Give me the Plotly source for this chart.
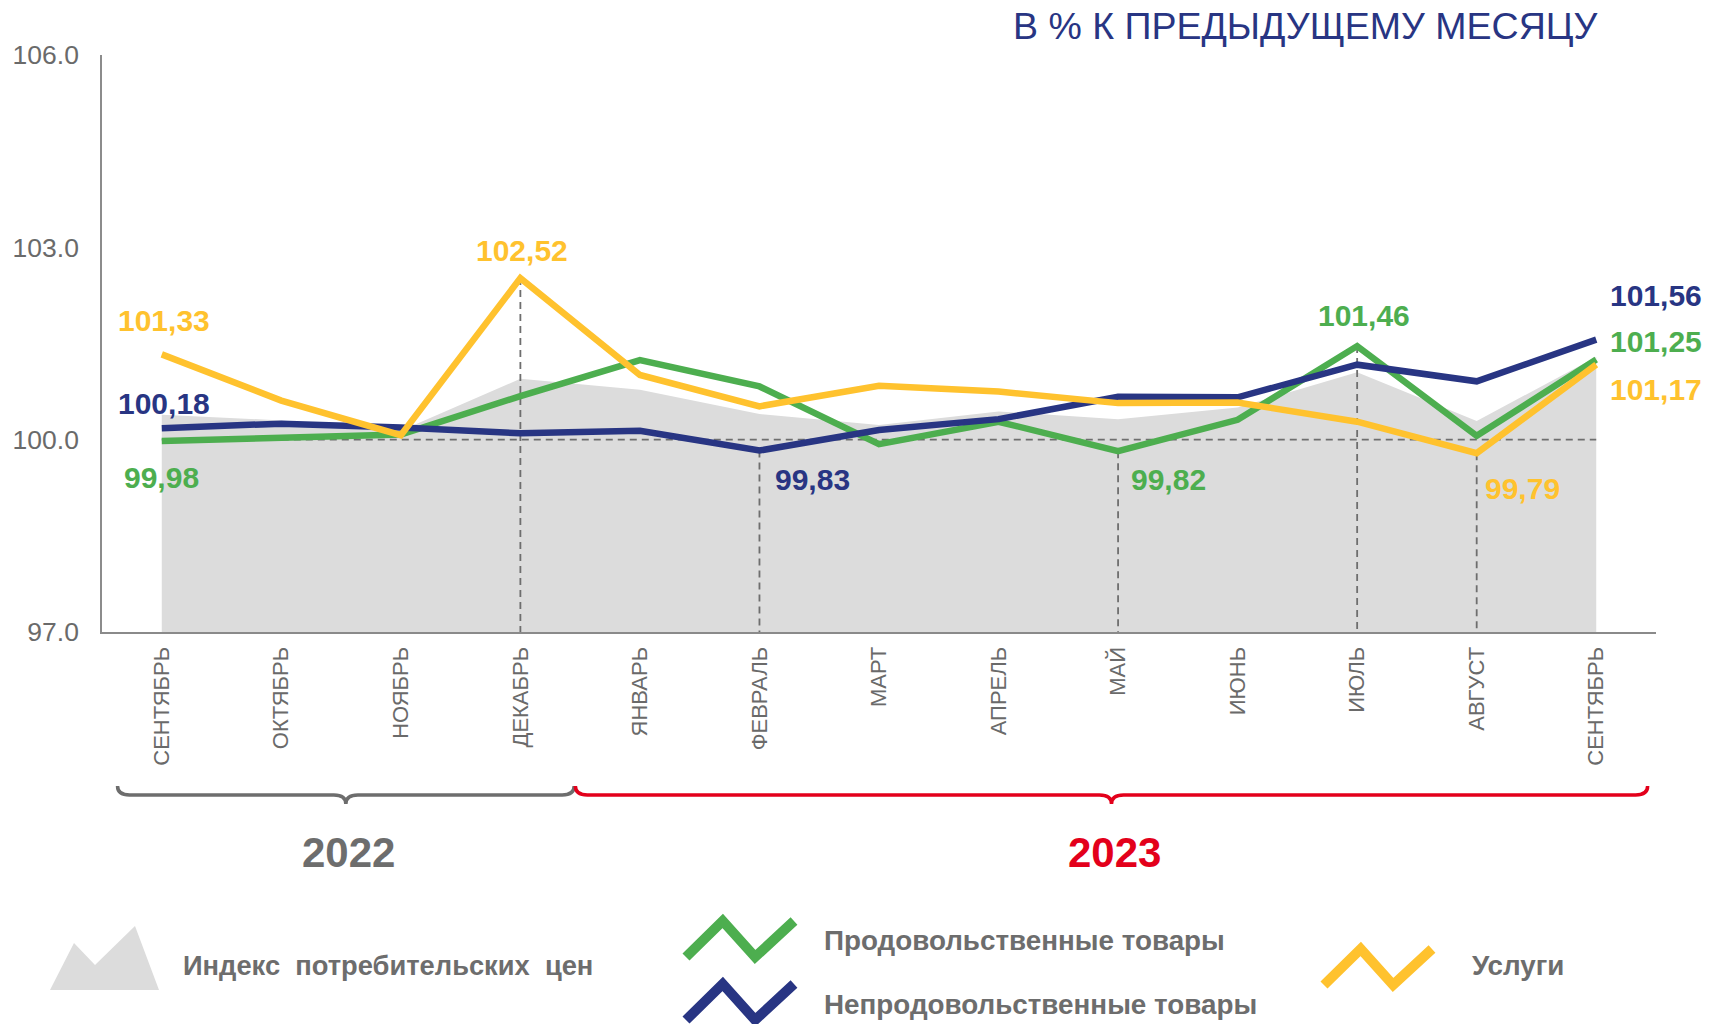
import plotly.graph_objects as go

# ---------------- data ----------------
months = ["СЕНТЯБРЬ", "ОКТЯБРЬ", "НОЯБРЬ", "ДЕКАБРЬ", "ЯНВАРЬ", "ФЕВРАЛЬ", "МАРТ",
          "АПРЕЛЬ", "МАЙ", "ИЮНЬ", "ИЮЛЬ", "АВГУСТ", "СЕНТЯБРЬ"]
cpi = [100.39, 100.30, 100.14, 100.95, 100.78, 100.40, 100.23, 100.44, 100.32,
       100.50, 101.05, 100.29, 101.29]
food = [99.98, 100.02, 100.08, 100.68, 101.24, 100.83, 99.93, 100.28, 99.82,
        100.31, 101.46, 100.06, 101.25]
nonfood = [100.18, 100.25, 100.19, 100.10, 100.14, 99.83, 100.15, 100.32, 100.67,
           100.66, 101.17, 100.91, 101.56]
services = [101.33, 100.61, 100.07, 102.52, 101.01, 100.52, 100.84, 100.75, 100.57,
            100.58, 100.28, 99.79, 101.17]
y_ticks = [97.0, 100.0, 103.0, 106.0]
years = ["2022", "2023"]
year_spans = [(0, 3), (4, 12)]
baseline = 100.0
title_text = "В % К ПРЕДЫДУЩЕМУ МЕСЯЦУ"
legend_names = ["Индекс  потребительских  цен", "Продовольственные товары",
                "Непродовольственные товары", "Услуги"]

# ---------------- styles ----------------
C_FOOD = "#4DAE4F"
C_NONFOOD = "#283583"
C_SERV = "#FFC22E"
C_AREA = "#DCDCDC"
C_GREY = "#6D6D6D"
C_RED = "#E3001B"
FONT = "Liberation Sans, Arial, sans-serif"

W, H = 1714, 1024
ML, MR, MT, MB = 102, 58, 55, 392
PW, PH = W - ML - MR, H - MT - MB


def px(x):
    return (x - ML) / PW


def py(y):
    return (H - MB - y) / PH


x = list(range(len(months)))
series = {"food": food, "nonfood": nonfood, "serv": services}
colors = {"food": C_FOOD, "nonfood": C_NONFOOD, "serv": C_SERV}

fig = go.Figure()

# CPI area
fig.add_trace(go.Scatter(x=x, y=cpi, mode="lines", fill="tozeroy",
                         fillcolor=C_AREA, line=dict(width=0, color=C_AREA),
                         hoverinfo="skip", showlegend=False))

# baseline dashed line
fig.add_trace(go.Scatter(x=[x[0], x[-1]], y=[baseline, baseline], mode="lines",
                         line=dict(color="#6E6E6E", width=1.8, dash="7px,5px"),
                         hoverinfo="skip", showlegend=False))

# drop lines at labelled extremes
drops = [("serv", 3), ("nonfood", 5), ("food", 8), ("food", 10), ("serv", 11)]
dx, dy = [], []
for s, i in drops:
    dx += [x[i], x[i], None]
    dy += [series[s][i], y_ticks[0], None]
fig.add_trace(go.Scatter(x=dx, y=dy, mode="lines",
                         line=dict(color="#6E6E6E", width=1.8, dash="7px,5px"),
                         hoverinfo="skip", showlegend=False))

# main lines
for s in ["food", "nonfood", "serv"]:
    fig.add_trace(go.Scatter(x=x, y=series[s], mode="lines",
                             line=dict(color=colors[s], width=6.5),
                             showlegend=False))

# data labels: (series, index, xanchor, xshift, yshift)
label_specs = [
    ("serv", 0, "center", 2, 34),
    ("nonfood", 0, "center", 2, 25),
    ("food", 0, "center", 0, -37),
    ("serv", 3, "center", 2, 28),
    ("nonfood", 5, "left", 14, -29),
    ("food", 8, "left", 11, -28),
    ("food", 10, "center", 7, 31),
    ("serv", 11, "left", 6, -35),
    ("nonfood", 12, "left", 12, 44),
    ("food", 12, "left", 12, 18),
    ("serv", 12, "left", 12, -25),
]
annotations = []
for s, i, xa, xs, ys in label_specs:
    v = series[s][i]
    annotations.append(dict(
        x=x[i], y=v, xref="x", yref="y", text=f"{v:.2f}".replace(".", ","),
        showarrow=False, xanchor=xa, yanchor="middle", xshift=xs, yshift=ys,
        font=dict(family=FONT, size=30, color=colors[s], weight="bold")))

# title
annotations.append(dict(x=px(1305), y=py(26), xref="paper", yref="paper",
                        text=title_text, showarrow=False, xanchor="center",
                        yanchor="middle",
                        font=dict(family=FONT, size=37.5, color=C_NONFOOD)))

# year braces and labels
n = len(months)


def ix(i):
    return (i + 0.5) / n


shapes = []
brace_cols = [C_GREY, C_RED]
brace_pad = [(-0.37, 0.45), (-0.54, 0.43)]
y_top, y_mid, y_tip = py(786), py(795), py(804)
for (i0, i1), col, (p0, p1), yr in zip(year_spans, brace_cols, brace_pad, years):
    x0, x1 = ix(i0 + p0), ix(i1 + p1)
    xc = (x0 + x1) / 2
    d = 12 / PW
    path = (f"M {x0},{y_top} Q {x0},{y_mid} {x0 + d},{y_mid} "
            f"L {xc - d},{y_mid} Q {xc},{y_mid} {xc},{y_tip} "
            f"Q {xc},{y_mid} {xc + d},{y_mid} "
            f"L {x1 - d},{y_mid} Q {x1},{y_mid} {x1},{y_top}")
    shapes.append(dict(type="path", path=path, xref="paper", yref="paper",
                       line=dict(color=col, width=3.5)))
    annotations.append(dict(x=xc, y=py(853), xref="paper", yref="paper",
                            text=yr, showarrow=False, xanchor="center",
                            yanchor="middle", xshift=3,
                            font=dict(family=FONT, size=42, color=col,
                                      weight="bold")))

# legend icons
mountain = [(50, 990), (74, 943), (95, 965), (135, 926), (159, 990)]
path = "M " + " L ".join(f"{px(a)},{py(b)}" for a, b in mountain) + " Z"
shapes.append(dict(type="path", path=path, xref="paper", yref="paper",
                   fillcolor=C_AREA, line=dict(width=0)))


def zig(x0, yb, w, h):
    pts = [(x0, yb), (x0 + w * 0.34, yb - h), (x0 + w * 0.64, yb),
           (x0 + w, yb - h)]
    return "M " + " L ".join(f"{px(a)},{py(b)}" for a, b in pts)


for (x0, yb), col in [((686, 957), C_FOOD), ((686, 1020), C_NONFOOD),
                      ((1324, 985), C_SERV)]:
    shapes.append(dict(type="path", path=zig(x0, yb, 108, 36), xref="paper",
                       yref="paper", line=dict(color=col, width=10)))

leg_pos = [(181, 965), (822, 940), (822, 1005), (1470, 965)]
leg_sizes = [27.3, 27.8, 27.8, 27.8]
for name, (lx, ly), fs in zip(legend_names, leg_pos, leg_sizes):
    annotations.append(dict(x=px(lx), y=py(ly), xref="paper", yref="paper",
                            text=name, showarrow=False, xanchor="left",
                            yanchor="middle",
                            font=dict(family=FONT, size=fs, color=C_GREY,
                                      weight="bold")))

fig.update_layout(
    width=W, height=H,
    margin=dict(l=ML, r=MR, t=MT, b=MB, pad=0),
    paper_bgcolor="white", plot_bgcolor="white",
    showlegend=False,
    annotations=annotations,
    shapes=shapes,
    xaxis=dict(range=[-0.5, n - 0.5], tickmode="array", tickvals=x,
               ticktext=months, tickangle=-90, showgrid=False, zeroline=False,
               showline=True, linecolor="#8A8A8A", linewidth=2.2, ticks="",
               ticklabelstandoff=4,
               tickfont=dict(family=FONT, size=22, color="#6A6A6A")),
    yaxis=dict(range=[y_ticks[0], y_ticks[-1]], tickmode="array",
               tickvals=y_ticks, tickformat=".1f", showgrid=False,
               zeroline=False, showline=True, linecolor="#8C8C8C",
               linewidth=1.5, ticks="", ticklabelstandoff=16,
               tickfont=dict(family=FONT, size=26.5, color="#6A6A6A")),
)

fig.write_html("out.html", config={"displayModeBar": False},
               post_script="document.body.style.margin='0';document.body.style.overflow='hidden';")
